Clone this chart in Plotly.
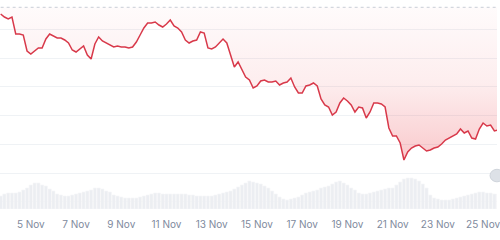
import pandas as pd
import plotly.graph_objects as go

# 4-hourly samples, 3 Nov 16:00 -> 25 Nov 16:00
times = pd.date_range("2024-11-03 16:00", periods=133, freq="4h")

price = [226, 223, 221, 223, 206, 206, 205, 189, 186, 189, 192, 192, 201, 206, 204, 202, 202, 200, 197, 190,
         188, 191, 194, 185, 181, 196, 203, 199, 197, 195, 193, 194, 193, 193, 192, 193, 198, 205, 212, 217,
         217, 218, 215, 213, 216, 220, 214, 212, 208, 200, 197, 199, 200, 208, 207, 192, 191, 193, 197, 201,
         197, 186, 173, 178, 170, 163, 160, 152, 154, 159, 160, 158, 158, 159, 155, 157, 158, 162, 153, 147,
         147, 154, 155, 157, 154, 141, 135, 133, 125, 128, 137, 142, 139, 135, 128, 133, 132, 122, 128, 137,
         137, 136, 133, 112, 104, 104, 97, 80, 88, 92, 94, 95, 92, 89, 90, 92, 93, 96, 100, 102,
         104, 106, 111, 107, 109, 102, 101, 111, 117, 114, 115, 109, 110]

volume = [13, 15, 16, 16, 16, 17, 19, 21, 24, 26, 26, 24, 23, 20, 18, 15, 14, 13, 13, 14,
          15, 16, 17, 18, 19, 21, 21, 20, 18, 17, 14, 13, 12, 11, 11, 11, 11, 12, 13, 14,
          15, 16, 16, 15, 15, 15, 15, 15, 15, 15, 14, 14, 13, 13, 13, 13, 13, 14, 15, 16,
          17, 18, 20, 22, 24, 26, 28, 27, 26, 25, 23, 21, 18, 15, 12, 10, 9, 10, 11, 12,
          14, 16, 17, 18, 19, 21, 22, 23, 25, 27, 28, 26, 24, 21, 19, 16, 15, 15, 16, 17,
          18, 19, 20, 21, 21, 24, 27, 30, 31, 31, 30, 28, 25, 21, 14, 11, 10, 9, 9, 9,
          10, 11, 12, 13, 14, 15, 16, 17, 17, 16, 16, 15, 15]

open_price = 232.7
tick_dates = ["2024-11-05", "2024-11-07", "2024-11-09", "2024-11-11", "2024-11-13", "2024-11-15",
              "2024-11-17", "2024-11-19", "2024-11-21", "2024-11-23", "2024-11-25"]
tick_text = ["5 Nov", "7 Nov", "9 Nov", "11 Nov", "13 Nov", "15 Nov",
             "17 Nov", "19 Nov", "21 Nov", "23 Nov", "25 Nov"]

RED = "#d8394a"

fig = go.Figure()

fig.add_trace(go.Bar(
    x=times, y=volume, yaxis="y2",
    marker=dict(color="#eceef2", line=dict(width=0.6, color="#f6f7f9")),
    hoverinfo="skip", showlegend=False,
))

fig.add_trace(go.Scatter(
    x=times, y=[open_price] * len(times), mode="lines",
    line=dict(color="#c9ced6", width=1, dash="dot"),
    hoverinfo="skip", showlegend=False,
))

fig.add_trace(go.Scatter(
    x=times, y=price, mode="lines", fill="tonexty",
    line=dict(color=RED, width=1.5),
    fillgradient=dict(
        type="vertical",
        colorscale=[[0, "rgba(234,57,67,0.27)"], [0.5, "rgba(234,57,67,0.09)"], [1, "rgba(234,57,67,0.02)"]],
        start=80, stop=open_price,
    ),
    showlegend=False,
))

fig.add_shape(type="circle", xref="paper", yref="paper",
              x0=0.986, x1=1.014, y0=0.13, y1=0.19,
              fillcolor="#dde1e7", line=dict(color="#cfd4db", width=1))

fig.update_layout(
    width=500, height=240,
    margin=dict(l=0, r=0, t=0, b=31),
    paper_bgcolor="white", plot_bgcolor="white",
    bargap=0.15,
    xaxis=dict(
        range=["2024-11-03 15:18", "2024-11-25 14:46"],
        tickvals=tick_dates, ticktext=tick_text,
        showgrid=False, zeroline=False, showline=False, ticks="",
        ticklabeloverflow="allow", ticklabelstandoff=8,
        tickfont=dict(family="Inter", size=10, color="#808a9d"),
    ),
    yaxis=dict(
        range=[31, 240], tick0=67, dtick=28.7,
        showgrid=True, gridcolor="#eff2f5", gridwidth=1,
        showticklabels=False, zeroline=False, showline=False,
    ),
    yaxis2=dict(
        range=[0, 209], overlaying="y", side="right",
        showgrid=False, showticklabels=False, zeroline=False, showline=False,
    ),
)

fig.write_html("out.html")
